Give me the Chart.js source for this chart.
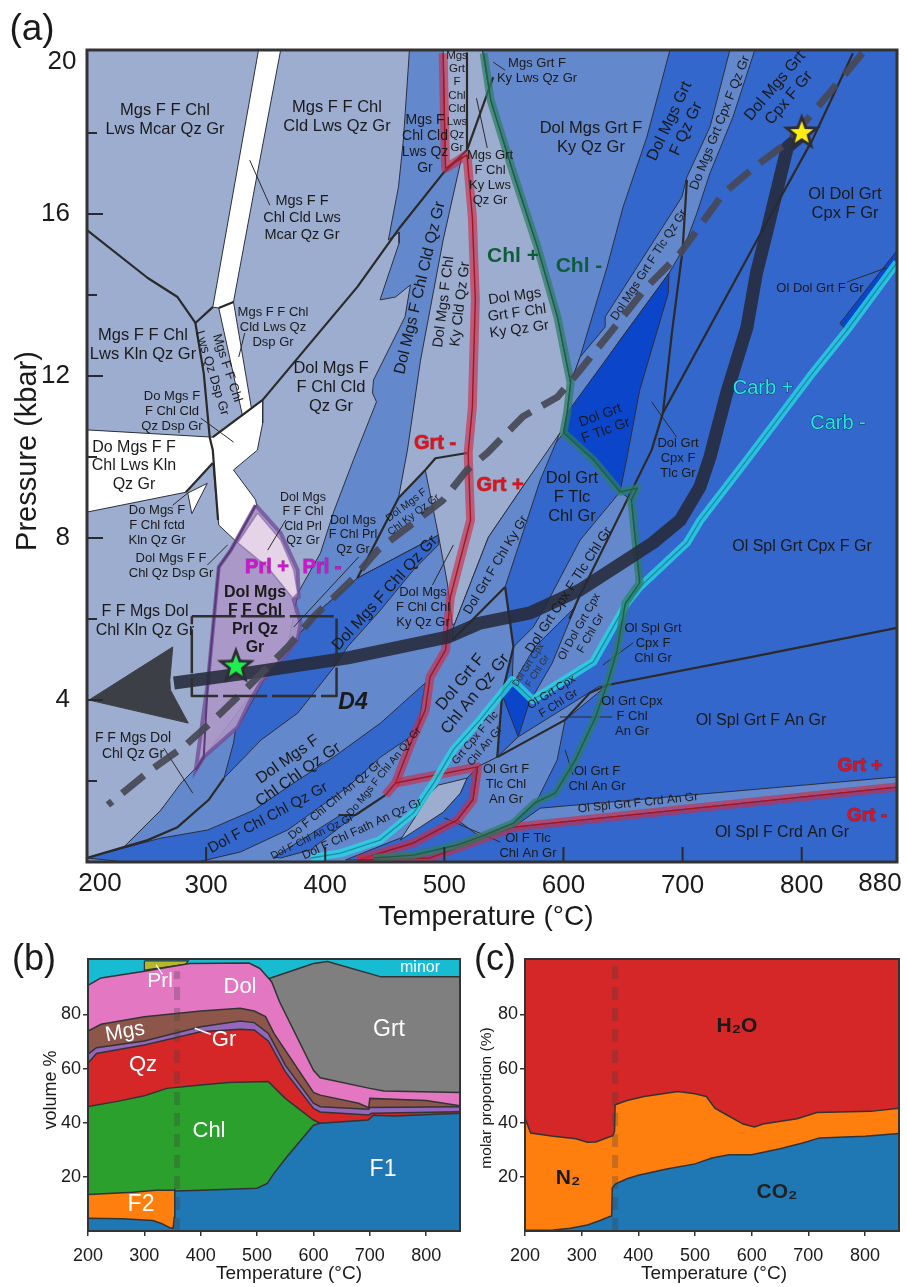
<!DOCTYPE html>
<html>
<head>
<meta charset="utf-8">
<title>P-T pseudosection</title>
<script src="https://cdn.jsdelivr.net/npm/chart.js@4/dist/chart.umd.min.js"></script>
<style>
  html, body { margin: 0; padding: 0; background: #fff; }
  canvas { position: absolute; }
</style>
</head>
<body>
<canvas id="chartA" width="907" height="940" style="left:0;top:0"></canvas>
<canvas id="chartB" width="470" height="352" style="left:0;top:935px"></canvas>
<canvas id="chartC" width="437" height="352" style="left:470px;top:935px"></canvas>
<script>
// ---- panel (a): fields, temperature (C) / pressure (kbar) pairs ----
const fieldBase = [[200,0],[880,0],[880,20.05],[200,20.05]];
const fieldLight = [[200,20.05],[532,20.05],[539,18.8],[558,17],[578,15.2],[595,13.45],[606,11.83],[603,11.09],[600,10.6],[568,9.36],[537,8.02],[507.6,5.8],[290,2.27],[262,1.28],[231,.37],[200,.1]];
const fieldKyQz = [[532,20.05],[539,18.8],[558,17],[578,15.2],[595,13.45],[606,11.83],[614,12.47],[636.6,14.69],[650,16.17],[670,17.9],[689.4,20.05]];
const fieldCpxTlc = [[739.7,20.05],[760.6,20.05],[742.2,18.39],[723,17.01],[712,16.02],[701,15.16],[688.6,14.54],[647.5,12.89],[608,11.23],[603,11.09],[606,11.83],[614,12.47],[635,13.21],[635,13.46],[699.4,16.42],[703.6,16.91],[723,18.15]];
const fieldChlCld = [[470.7,20.05],[465.6,17.83],[461.5,16.67],[453,15.36],[462,15.55],[462,15.28],[446,13.88],[459,13.95],[471.5,14.25],[467,13.46],[440.5,11.9],[439.7,11.58],[443,11.36],[423.7,9.93],[407,8.64],[396,7.63],[377,6.64],[368.4,5.31],[398.6,6.3],[427,7.01],[461.5,8.99],[469,10.17],[480,12.39],[499,15.36],[515,17.46],[501,17.13],[499,20.05]];
const fieldChlKy = [[484,9.68],[495,8.07],[427,7.01],[461.5,8.99]];
const fieldLowMid = [[200,.1],[231,.37],[262,1.28],[279,1.95],[289.7,2.27],[368.4,5.31],[427,7.01],[495,8.07],[502.5,6.89],[506.7,5.85],[551,6.79],[558,5.31],[548.6,4.17],[544.4,2.59],[528,2.35],[524,1.53],[511,1.04],[474,.47],[427,.05],[427,0],[200,0]];
const fieldChlQz = [[495,8.07],[427,7.01],[398.6,6.3],[368.4,5.31],[348.3,4.49],[331.6,3.58],[325,3.33],[323,2.94],[315,2.07],[346,3.01],[377,3.68],[410,4.91],[418.7,5.31],[446.4,6.22],[474,7.21],[495,7.83]];
const fieldChlChl = [[200,.1],[262,.59],[301.4,.79],[340,1.28],[373.5,1.95],[407,2.59],[446.4,3.43],[484,4.42],[477.4,3.21],[446.4,2.59],[418.7,1.85],[368.4,.79],[329,.25],[293,0],[231,0]];
const fieldChlAn = [[357,.12],[413,1.16],[425.4,1.16],[387.7,.3],[362.6,.1]];
const fieldChlKyBand = [[597.2,10.6],[580.5,9.43],[551,6.79],[506.7,5.48],[507.6,5.8],[537,8.02],[568,9.36]];
const fieldCpxTlcChl = [[558,5.31],[574.6,5.8],[583,6.22],[614,7.95],[647.5,9.14],[657,8.94],[664,6.89],[653,6.39],[625,4.94],[574,4],[557,4.49]];
const fieldCpxChl = [[559.5,4.49],[576,5.31],[610,6.3],[590.5,4.91],[574,4.07],[566,4.07]];
const fieldSmallDark = [[548.6,4.12],[557,4.42],[572,4],[562,3.09]];
const fieldAnStripe = [[544.4,2.59],[562,3.09],[629,4.32],[637,4.37],[601.4,3.51]];
const fieldTlcChlAn = [[528,2.35],[544.4,2.59],[601.4,3.51],[594.7,2.52],[578,1.53],[555.3,.86],[530,.62],[511,1.04],[524,1.53]];
const fieldPocket = [[519,2.07],[528,2.35],[524,1.53],[511,1.04],[474,.47],[427,.05],[417,.05],[463,.59],[499,1.23],[513.4,1.7]];
const fieldPocketGrey = [[495,1.9],[519,2.07],[513.4,1.7],[499,1.23],[463,.54],[474,1.04],[488,1.7]];
const fieldTlcDark = [[688.6,14.54],[688,14.05],[664,11.65],[653.4,10],[647.5,9.14],[625,9.93],[600,10.6],[603,11.09]];
const fieldCrdStrip = [[580.5,1.33],[880,2.1],[880,1.85],[558,.86]];
const fieldDolGrtStrip = [[880,15.1],[880,14.8],[838,13.13],[832,13.3]];
const whiteStripTop = [[344,20.05],[362.6,20.05],[343,17],[323,13.83],[310.6,13.68],[305.6,13.7]];
const whiteStripLow = [[310.6,13.68],[323,13.83],[338,11.21],[331,10.96]];
const whiteBlock = [[200,10.67],[305.6,10.49],[347.5,11.41],[347.5,10.84],[343,10.17],[323,9.68],[341.6,8.94],[343,8.7],[326.5,7.88],[310.6,8.32],[305.6,9.85],[283,9.13],[200,8.64]];
const whiteNotch = [[284.6,9.11],[301,9.35],[288,8.6]];
const prlField = [[341.6,8.81],[362.6,8.12],[376.8,7.21],[377.7,6.54],[373.5,6.47],[379.3,5.9],[376.8,5.48],[368.4,5.16],[345.8,4.42],[337.4,4],[326.5,3.33],[298,2.59],[291.3,2.27],[301.4,4.42],[310.6,7.28],[320.7,7.7]];
const prlOutField = [[343.3,8.62],[362.6,7.95],[373.5,7.21],[376.8,6.64],[372.6,6.52],[351.7,7.28],[326.5,7.88]];

// ---- panel (a): reaction lines ----
const lineMgs = [[200,15.6],[251,14.42],[276,13.95],[291,13.31],[305.6,13.7]];
const lineWhiteCap = [[310.6,13.68],[323,13.83]];
const lineLws = [[291,13.31],[298,12.07],[303,10.49],[305.6,10.17],[310,8.44]];
const lineKlnBranch = [[305.6,9.85],[283,9.13]];
const lineCld = [[519,19.97],[519,17.58],[499,17.01],[463,15.68],[427,14.2],[347.5,11.41],[305.6,10.49]];
const lineKyBranch = [[541,19.38],[519,17.58]];
const lineGrtMinus = [[427,7.01],[461.5,8.99],[484,9.68],[492.5,9.97],[519,10.1]];
const lineLowLeft = [[200,.1],[251,.54],[276,.86],[302,1.53],[315,2.07]];
const lineFath = [[450.5,1.65],[425.4,1.16],[411,1.16]];
const lineDolGrt = [[551,6.79],[506.7,5.48]];
const lineDolGrtB = [[551,6.79],[558,5.31],[548.6,4.17],[544.4,2.59]];
const lineOlSpl = [[880,5.78],[754,5.04],[637,4.37],[622,4.17],[601.4,3.51],[544.4,2.59]];
const lineStar = [[843,19.97],[809,17.83],[767,15.6],[683.5,11.09],[674,10.17],[612,6.47],[605,6]];
const lineTlcUp = [[703.6,16.84],[700,15.11],[691,13.06],[683.5,11.09]];
const pointerLines = [
  [[336.6,17.33],[353.4,16.22]], [[332.4,13.06],[327.4,12.47]], [[295.5,10.96],[323,10.37]],
  [[527,18.86],[536,17.63]], [[541,19.75],[551,19.55]], [[838,14.32],[871,14.67]],
  [[674,11.36],[695,10.49]], [[272,8.81],[284.6,9.11]], [[301,7.33],[318,7.83]],
  [[351.7,7.7],[366.8,8.44]], [[428,7.53],[373.5,5.8]], [[264.5,2.81],[288.8,1.7]],
  [[490,6.84],[507.6,7.83]], [[500,1.09],[547,.49]], [[633,4.86],[658.4,5.41]],
  [[597,3.58],[641,3.58]], [[601.4,2.77],[608,2.15]]
];

// ---- panel (a): isograds and the P-T path ----
const grtUpper = [[499,19.97],[501,17.13],[519,17.46],[523.5,15.92],[526,13.88],[523.5,11.23],[520,10.1],[522,8.44],[505,6.54],[501,5.23],[488,4.57],[484,3.75],[474,3.09],[459,1.95],[450.5,1.65]];
const grtMiddle = [[459,1.95],[528,2.35],[524,1.53],[511,1.04],[474,.47],[427,.05]];
const grtLower = [[427,.05],[488,.1],[558,.86],[880,1.85]];
const chlLine = [[533,19.97],[539,18.8],[558,17],[578,15.2],[595,13.45],[606,11.83],[603,11.09],[600,10.6],[625,9.93],[647.5,9.14],[662,9.23],[657,8.94],[664,6.89],[652,6.39],[645,5.23],[637,4.42],[627,3.58],[610,2.52],[593,1.7],[576,1.46],[558,.96],[530,.62],[511,.42],[474,.17],[440.5,.1]];
const carbLine = [[880,14.8],[838,13.13],[809,12.07],[754,9.93],[715,8.44],[703.5,7.88],[664,6.79],[653,6.39],[625,4.94],[574,4],[557,4.49],[530,3.51],[507.5,2.77],[491,1.95],[474,1.21],[446,.54],[413,.22],[388,.1]];
const prlLine = [[291.3,2.27],[298,2.59],[301.4,4.42],[310.6,7.28],[320.7,7.7],[341.6,8.81]];
const retroPath = [[800,17.95],[788,17.65],[771,15.6],[762,14.54],[754,13.2],[737,11.58],[723,10],[714.5,9.26],[698,8.44],[675,7.88],[653,7.46],[614,6.72],[572,6.15],[530,5.9],[502.5,5.55],[419,5.04],[340,4.69],[273,4.42]];
const arrowHead = [[201.7,4],[272,5.31],[269.5,4.49],[270,4.25],[285,3.43]];
const geotherm = [[851,19.97],[809,18.49],[787.5,17.75],[762,17.2],[734,16.5],[698,15.03],[670,14.2],[639,13.06],[614,12.15],[595,11.48],[566,11],[536,10.1],[519,9.68],[499,8.94],[474,8.37],[444,7.7],[424,7.01],[390,6.05],[368.5,5.31],[335,4.32],[306.5,3.51],[281,2.84],[253.5,2.27],[217.5,1.41]];
const boxD4 = [[288,6.07],[409.5,6.07],[409.5,4.1],[288,4.1],[288,6.07]];
const starPeak = [[800,18]];
const starStart = [[325,4.83]];

// axis ticks of panel (a)
const tempTicksA = [200,300,400,500,600,700,800,880];
const pressureTicksA = [4,8,12,16,20];
const pressureLong = [4,8,12,16];
const pressureShort = [2,6,10,14,18];
const tempMarks = [300,400,500,600,700,800];

// ---- panel (b): upper boundaries of each phase, volume % ----
const minorTop = [[200,100.5],[860,100.5]];
const grtTop = [[520,93.2],[600,98.8],[625,99.6],[720,93.9],[860,93.9]];
const prlTop = [[300,99.8],[378,99.8],[373,98.5],[300,96.4]];
const dolTop = [[200,90.8],[223,93.5],[300,96],[380,98.8],[486,99],[505,97],[520,93.5],[526,92],[540,84.6],[600,59.4],[612,56.6],[700,52.7],[725,51.7],[860,51.2]];
const mgsTop = [[200,73.9],[223,76.4],[300,79.2],[400,81.3],[470,82.3],[495,81.3],[515,79.2],[530,73],[600,51.2],[612,50.2],[680,47.2],[698,45.6],[700,49],[800,48.2],[860,46.3]];
const grTop = [[200,65.3],[215,67.7],[300,70.2],[400,75.5],[470,77.6],[495,77],[520,73],[550,61.3],[600,47.2],[612,45.9],[698,45],[700,45.6],[860,45.9]];
const qzTop = [[200,62],[215,65.6],[300,68.7],[400,73.6],[470,74.5],[495,74.3],[520,70.2],[550,58.9],[600,45.3],[612,44],[698,42.9],[703,43.5],[860,44.1]];
const chlTop = [[200,46],[250,47.8],[300,50],[340,52.7],[400,53.9],[450,54.9],[520,55.2],[550,49],[600,41],[612,39.8]];
const f2Top = [[200,13.5],[280,14.3],[320,15.1],[353,15.1]];
const f1Top = [[200,4.7],[260,4.5],[315,3.9],[330,2.8],[345,1.2],[351,1],[353,5],[354,15.2],[356,14.8],[400,15.1],[450,15.4],[500,15.8],[518,17.6],[530,21.3],[553,27.4],[600,39.1],[612,39.8],[697,41],[706,42.8],[745,42.5],[860,43.5]];
const dashB = [[358,0],[358,96]];
const leaderPrl = [[320.6,98.3],[332.4,94.8]];
const leaderGr = [[389.4,74.9],[417.6,72.7]];

// ---- panel (c): upper boundaries, molar proportion % ----
const h2oTop = [[200,100.5],[860,100.5]];
const n2Top = [[200,41.7],[210,36.2],[250,35],[290,34.1],[310,32.8],[325,32.9],[340,34.1],[355,35.2],[358,36.8],[359,46.6],[380,48.2],[410,49.7],[470,51.5],[500,50.7],[520,49.7],[535,45.4],[550,43.6],[585,39.5],[605,38.4],[620,39.5],[680,41.5],[715,43.8],[810,44.2],[860,45.4]];
const co2Top = [[200,.3],[250,.4],[280,1],[310,2.2],[330,3.7],[352,5.5],[353,6.4],[354,16],[360,17.4],[380,19.3],[400,20.6],[450,22.9],[500,24.8],[530,27],[560,28.2],[600,28.2],[650,30.4],[690,32.5],[720,34.4],[800,35],[860,36]];
const dashC = [[359,0],[359,100.5]];

const tempTicksLow = [200,300,400,500,600,700,800];
const percentTicks = [20,40,60,80];

// ---- colours ----
const STRONG = "#3467cc", MID = "#6488cc", LIGHT = "#9dadd0", DEEP = "#0b45c9";
const EDGE = "#2b2f3f", BLACK = "#2a2a2a";
const FONT = '"Liberation Sans", Arial, sans-serif';

const xy = (pts) => pts.map((p) => ({ x: p[0], y: p[1] }));

function area(pts, color, edge = EDGE, width = 1) {
  const closed = pts.concat([pts[0]]);
  return { data: xy(closed), showLine: true, fill: "shape", backgroundColor: color, borderColor: edge, borderWidth: width, pointRadius: 0 };
}
function line(pts, color, width, dash) {
  return { data: xy(pts), showLine: true, fill: false, borderColor: color, borderWidth: width, borderDash: dash || [], borderJoinStyle: "round", borderCapStyle: "butt", pointRadius: 0 };
}
function under(pts, color) {
  return { data: xy(pts), showLine: true, fill: "origin", backgroundColor: color, borderColor: "#333", borderWidth: 1.5, pointRadius: 0 };
}
// isograd: translucent wide band with a thin core line
function band(pts, wide, core, w) {
  return [line(pts, wide, w), line(pts, core, 1.4)];
}
function starImage(fill) {
  const c = document.createElement("canvas");
  c.width = c.height = 44;
  const g = c.getContext("2d");
  const draw = (r, color) => {
    g.beginPath();
    for (let i = 0; i < 10; i++) {
      const rr = i % 2 ? r * 0.42 : r;
      const a = -Math.PI / 2 + (i * Math.PI) / 5;
      g.lineTo(22 + rr * Math.cos(a), 22 + rr * Math.sin(a));
    }
    g.closePath();
    g.fillStyle = color;
    g.fill();
  };
  draw(20, "#2d2d33");
  draw(12, fill);
  return c;
}

// ---- text, in page pixels: x, y, text, size, rotation, style ----
const ink = "#1a1a1a";
const RED = { c: "#e3101a", b: 1, o: "rgba(120,0,0,.5)" };
const CARB = { c: "#22e6e0", o: "rgba(20,40,70,.8)" };
const MAG = { c: "#d214cf", b: 1, o: "rgba(80,0,80,.5)" };
const GRN = { c: "#0d5c3c", b: 1 };
const labelsA = [
  [32,30,"(a)",37], [62,62,"20",26], [100,884,"200",26], [880,884,"880",26],
  [486,917,"Temperature (°C)",28], [28,451,"Pressure (kbar)",29,-90],
  [165,120,"Mgs F F Chl\nLws Mcar Qz Gr",16.5], [337,117,"Mgs F F Chl\nCld Lws Qz Gr",16.5],
  [302,218,"Mgs F F\nChl Cld Lws\nMcar Qz Gr",14.5], [143,345,"Mgs F F Chl\nLws Kln Qz Gr",16.5],
  [273,327,"Mgs F F Chl\nCld Lws Qz\nDsp Gr",13], [212,373,"Lws Qz Dsp Gr",13,73], [227,368,"Mgs F F Chl",13,72],
  [172,411,"Do Mgs F\nF Chl Cld\nQz Dsp Gr",13], [134,466,"Do Mgs F F\nChl Lws Kln\nQz Gr",16],
  [331,387,"Dol Mgs F\nF Chl Cld\nQz Gr",16.5], [425,144,"Mgs F\nChl Cld\nLws Qz\nGr",14],
  [457,102,"Mgs\nGrt\nF\nChl\nCld\nLws\nQz\nGr",11.5], [490,178,"Mgs Grt\nF Chl\nKy Lws\nQz Gr",13],
  [420,288,"Dol Mgs F Chl Cld Qz Gr",16,-76.7], [452,303,"Dol Mgs F Chl\nKy Cld Qz Gr",14.5,-83],
  [537,71,"Mgs Grt F\nKy Lws Qz Gr",13], [591,138,"Dol Mgs Grt F\nKy Qz Gr",16.5],
  [678,125,"Dol Mgs Grt\nF Qz Gr",16,-65], [720,123,"Do Mgs Grt Cpx F Qz Gr",13,-68.4],
  [782,92,"Dol Mgs Grt\nCpx F Gr",16,-50], [845,204,"Ol Dol Grt\nCpx F Gr",16.5],
  [820,288,"Ol Dol Grt F Gr",13], [513,256,"Chl +",21,0,GRN], [579,266,"Chl -",21,0,GRN],
  [517,313,"Dol Mgs\nGrt F Chl\nKy Qz Gr",14.5,-8], [649,265,"Dol Mgs Grt F Tlc Qz Gr",12,-57],
  [603,423,"Dol Grt\nF Tlc Gr",14,-20], [678,458,"Dol Grt\nCpx F\nTlc Gr",13],
  [763,388,"Carb +",20,0,CARB], [838,423,"Carb -",20,0,CARB], [435,443,"Grt -",20,0,RED], [500,485,"Grt +",20,0,RED],
  [157,525,"Do Mgs F\nF Chl fctd\nKln Qz Gr",13], [171,566,"Dol Mgs F F\nChl Qz Dsp Gr",13],
  [303,519,"Dol Mgs\nF F Chl\nCld Prl\nQz Gr",12.5], [353,535,"Dol Mgs\nF Chl Prl\nQz Gr",12.5],
  [410,510,"Dol Mgs F\nChl Ky Qz Gr",10.5,-37], [145,621,"F F Mgs Dol\nChl Kln Qz Gr",16],
  [267,567,"Prl +",20,0,MAG], [322,567,"Prl -",20,0,MAG], [255,620,"Dol Mgs\nF F Chl\nPrl Qz\nGr",16,0,{ b: 1 }],
  [353,703,"D4",23,0,{ b: 1, i: 1 }], [385,593,"Dol Mgs F Chl Qz Gr",16,-48], [423,607,"Dol Mgs\nF Chl Chl\nKy Qz Gr",13],
  [496,565,"Dol Grt F Chl Ky Gr",13,-59], [133,746,"F F Mgs Dol\nChl Qz Gr",14],
  [293,767,"Dol Mgs F\nChl Chl Qz Gr",16,-35], [268,818,"Dol F Chl Chl Qz Gr",15,-28.4],
  [335,800,"Do F Chl Chl An Qz Gr",11.5,-39.6], [312,837,"Dol F Chl An Qz Gr",10.5,-26],
  [384,772,"Do Mgs F Chl An Qz Gr",10.5,-51], [362,829,"Dol F Chl Fath An Qz Gr",12,-25],
  [468,688,"Dol Grt F\nChl An Qz Gr",16.5,-51], [480,742,"Grt Cpx F Tlc\nChl An Gr",11,-50],
  [506,784,"Ol Grt F\nTlc Chl\nAn Gr",13], [528,846,"Ol F Tlc\nChl An Gr",13],
  [572,497,"Dol Grt\nF Tlc\nChl Gr",16.5], [569,590,"Dol Grt Cpx F Tlc Chl Gr",13.5,-57],
  [585,630,"Ol Dol Grt Cpx\nF Chl Gr",11.5,-60.6], [533,668,"Dol Grt Cpx\nF Chl Gr",9.5,-57,{ c: "#333" }],
  [555,698,"Ol Grt Cpx\nF Chl Gr",11.5,-32], [653,643,"Ol Spl Grt\nCpx F\nChl Gr",13],
  [802,547,"Ol Spl Grt Cpx F Gr",16], [761,721,"Ol Spl Grt F An Gr",16], [632,716,"Ol Grt Cpx\nF Chl\nAn Gr",13],
  [597,779,"Ol Grt F\nChl An Gr",13], [638,803,"Ol Spl Grt F Crd An Gr",12,-5.8], [782,833,"Ol Spl F Crd An Gr",16],
  [860,766,"Grt +",19,0,RED], [867,816,"Grt -",19,0,RED]
];
const WHITE = { c: "#fff" };
const labelsB = [
  [34,960,"(b)",36], [289,1274,"Temperature (°C)",19], [51,1090,"volume %",18,-90],
  [160,981,"Prl",21,0,WHITE], [240,987,"Dol",22,0,WHITE], [420,968,"minor",16,0,WHITE], [125,1032,"Mgs",21,-10,WHITE],
  [224,1040,"Gr",22,0,WHITE], [143,1065,"Qz",22,0,WHITE], [209,1131,"Chl",22,0,WHITE], [389,1030,"Grt",23,0,WHITE],
  [383,1170,"F1",23,0,WHITE], [141,1205,"F2",23,0,WHITE]
];
const labelsC = [
  [495,960,"(c)",36], [714,1274,"Temperature (°C)",19], [487,1098,"molar proportion (%)",15.5,-90],
  [737,1026,"H₂O",21,0,{ b: 1 }], [568,1178,"N₂",21,0,{ b: 1 }], [777,1192,"CO₂",21,0,{ b: 1, c: "#222" }]
];

function overlay(labels, left, top, frame, extra) {
  return {
    id: "overlay",
    afterDatasetsDraw(chart) {
      const ctx = chart.ctx, a = chart.chartArea;
      ctx.save();
      if (extra) extra(chart, ctx);
      ctx.strokeStyle = "#333";
      ctx.lineWidth = frame;
      ctx.strokeRect(a.left, a.top, a.right - a.left, a.bottom - a.top);
      ctx.translate(-left, -top);
      ctx.textAlign = "center";
      ctx.textBaseline = "middle";
      for (const [x, y, text, size, rot, s] of labels) {
        const st = s || {};
        ctx.save();
        ctx.translate(x, y);
        ctx.rotate(((rot || 0) * Math.PI) / 180);
        ctx.font = `${st.i ? "italic " : ""}${st.b ? "bold " : ""}${size}px ${FONT}`;
        ctx.fillStyle = st.c || ink;
        const rows = text.split("\n");
        const lh = size * 1.15;
        rows.forEach((row, i) => {
          const yy = (i - (rows.length - 1) / 2) * lh;
          if (st.o) {
            ctx.strokeStyle = st.o;
            ctx.lineWidth = 1;
            ctx.strokeText(row, 0, yy);
          }
          ctx.fillText(row, 0, yy);
        });
        ctx.restore();
      }
      ctx.restore();
    },
  };
}

// inward tick marks of panel (a)
function drawInnerTicks(chart, ctx) {
  const { x, y } = chart.scales;
  const a = chart.chartArea;
  ctx.strokeStyle = BLACK;
  ctx.lineWidth = 2;
  const seg = (x1, y1, x2, y2) => {
    ctx.beginPath();
    ctx.moveTo(x1, y1);
    ctx.lineTo(x2, y2);
    ctx.stroke();
  };
  pressureLong.forEach((p) => seg(a.left, y.getPixelForValue(p), a.left + 16, y.getPixelForValue(p)));
  pressureShort.forEach((p) => seg(a.left, y.getPixelForValue(p), a.left + 10, y.getPixelForValue(p)));
  tempMarks.forEach((t) => seg(x.getPixelForValue(t), a.bottom, x.getPixelForValue(t), a.bottom - 15));
}

function axis(min, max, ticks, font, pad, fit, hidden, outward) {
  return {
    type: "linear", min, max,
    grid: outward
      ? { display: true, drawOnChartArea: false, drawTicks: true, tickLength: 5, color: "#333", lineWidth: 1.5 }
      : { display: false },
    border: { display: false },
    ticks: {
      font: { family: FONT, size: font }, color: ink, padding: pad, autoSkip: false, maxRotation: 0,
      callback: (v) => (hidden.includes(v) ? "" : String(v)),
    },
    afterBuildTicks: (s) => { s.ticks = ticks.map((v) => ({ value: v })); },
    afterFit: fit,
  };
}

function build(id, datasets, scales, padding, plugin) {
  return new Chart(document.getElementById(id), {
    type: "scatter",
    data: { datasets: datasets.slice().reverse() }, // first dataset is painted last otherwise
    options: {
      responsive: false, animation: false, devicePixelRatio: 1,
      layout: { padding },
      plugins: { legend: { display: false }, tooltip: { enabled: false } },
      scales,
    },
    plugins: [plugin],
  });
}

// ---- chart (a) ----
const redWide = "rgba(205,40,70,.62)", redCore = "#a3151f";
const greenWide = "rgba(45,125,100,.72)", greenCore = "#1d5d48";
const cyanWide = "rgba(40,215,230,.8)", cyanCore = "#1b8fa5";
const datasetsA = [
  area(fieldBase, STRONG),
  area(fieldLight, LIGHT),
  area(fieldKyQz, MID),
  area(fieldCpxTlc, MID),
  area(fieldChlCld, MID),
  area(fieldChlKy, MID),
  area(fieldLowMid, MID),
  area(fieldChlQz, STRONG),
  area(fieldChlChl, STRONG),
  area(fieldChlAn, STRONG),
  area(fieldChlKyBand, MID),
  area(fieldCpxTlcChl, MID),
  area(fieldCpxChl, STRONG),
  area(fieldSmallDark, DEEP),
  area(fieldAnStripe, MID),
  area(fieldTlcChlAn, MID),
  area(fieldPocket, STRONG),
  area(fieldPocketGrey, LIGHT),
  area(fieldTlcDark, DEEP),
  area(fieldCrdStrip, MID),
  area(fieldDolGrtStrip, DEEP),
  area(whiteStripTop, "#fff"),
  area(whiteStripLow, "#fff"),
  area(whiteBlock, "#fff"),
  area(whiteNotch, "#fff"),
  area(prlField, "rgba(172,150,198,.88)", "rgba(110,75,150,.75)", 4),
  area(prlOutField, "#e5d4e8", "rgba(120,85,155,.55)", 1.5),
  line(prlLine, "#5b3a78", 2),
];
[lineMgs, lineWhiteCap, lineLws, lineKlnBranch, lineCld, lineKyBranch, lineGrtMinus, lineLowLeft, lineFath,
  lineDolGrt, lineDolGrtB, lineOlSpl, lineStar, lineTlcUp].forEach((l) => datasetsA.push(line(l, BLACK, 2.2)));
pointerLines.forEach((l) => datasetsA.push(line(l, BLACK, 1)));
datasetsA.push(...band(grtUpper, redWide, redCore, 9), ...band(grtMiddle, redWide, redCore, 9), ...band(grtLower, redWide, redCore, 9));
datasetsA.push(...band(carbLine, cyanWide, cyanCore, 8));
datasetsA.push(...band(chlLine, greenWide, greenCore, 8));
datasetsA.push(
  line(retroPath, "rgba(38,42,58,.88)", 13),
  area(arrowHead, "#3d3f47", "#3d3f47", 1),
  line(geotherm, "rgba(70,72,85,.92)", 7, [28, 13]),
  line(boxD4, "#2f2f2f", 2.5, [44, 5]),
  { data: xy(starPeak), pointStyle: starImage("#ffee10") },
  { data: xy(starStart), pointStyle: starImage("#1fee50") }
);
build("chartA", datasetsA, {
  x: axis(200, 880, tempTicksA, 26, 0, (s) => { s.height = 940 - 862; }, [200, 880]),
  y: axis(0, 20.05, pressureTicksA, 26, 9, (s) => { s.width = 87; }, [20]),
}, { top: 50, right: 10 }, overlay(labelsA, 0, 0, 3, drawInnerTicks));

// ---- chart (b) ----
build("chartB", [
  under(minorTop, "#18bcd2"),
  under(grtTop, "#7f7f7f"),
  area(prlTop, "#b5b82a", "#333", 1.2),
  under(dolTop, "#e377c2"),
  under(mgsTop, "#8c564b"),
  under(grTop, "#9467bd"),
  under(qzTop, "#d62728"),
  under(chlTop, "#2ca02c"),
  under(f2Top, "#ff7f0e"),
  under(f1Top, "#1f77b4"),
  line(dashB, "rgba(60,60,60,.28)", 6, [13, 8]),
  line(leaderPrl, "#fff", 1.2),
  line(leaderGr, "#fff", 1.5),
], {
  x: axis(200, 860, tempTicksLow, 18, 9, (s) => { s.height = 56; }, [], true),
  y: axis(0, 100.5, percentTicks, 18, 2, (s) => { s.width = 88; }, [], true),
}, { top: 24, right: 10 }, overlay(labelsB, 0, 935, 2));

// ---- chart (c) ----
build("chartC", [
  under(h2oTop, "#d62728"),
  under(n2Top, "#ff7f0e"),
  under(co2Top, "#1f77b4"),
  line(dashC, "rgba(60,60,60,.28)", 6, [13, 8]),
], {
  x: axis(200, 860, tempTicksLow, 18, 9, (s) => { s.height = 56; }, [], true),
  y: axis(0, 100.5, percentTicks, 18, 2, (s) => { s.width = 55; }, [], true),
}, { top: 24, right: 8 }, overlay(labelsC, 470, 935, 2));
</script>
</body>
</html>
